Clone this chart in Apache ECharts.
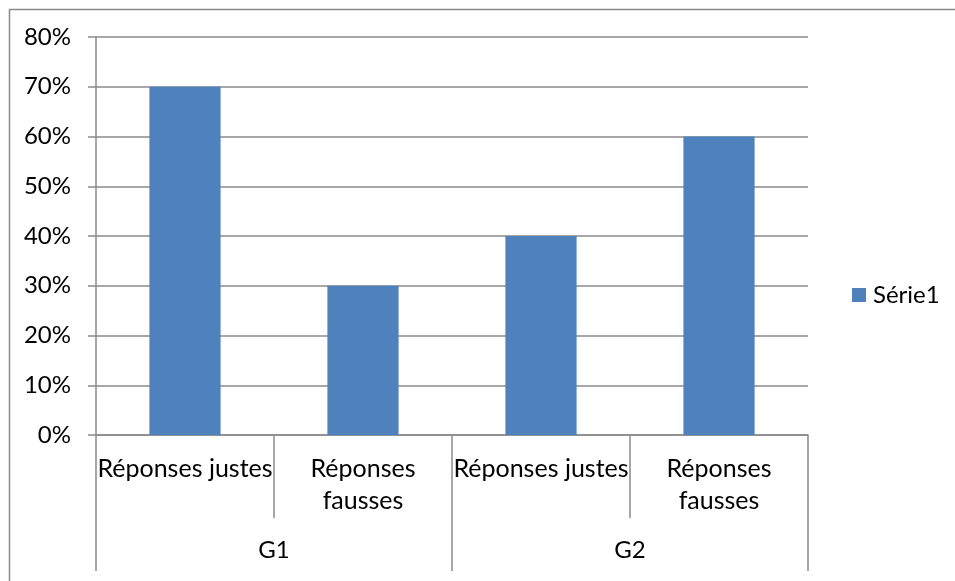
<!DOCTYPE html>
<html><head><meta charset="utf-8">
<script src="https://cdn.jsdelivr.net/npm/echarts@6/dist/echarts.min.js"></script>
<style>html,body{margin:0;padding:0;background:#fff}#c{width:955px;height:581px}</style>
</head><body><div id="c"></div>
<script>
const innerCategories = ['Réponses justes', 'Réponses fausses', 'Réponses justes', 'Réponses fausses'];
const outerCategories = ['G1', 'G2'];
const seriesName = 'Série1';
const values = [0.7, 0.3, 0.4, 0.6];
const yTicks = [0, 0.1, 0.2, 0.3, 0.4, 0.5, 0.6, 0.7, 0.8];

const FONT = 'Lato';
const FS = 24;
const GRAY = '#8a8a8a';
const chart = echarts.init(document.getElementById('c'), null, {renderer: 'canvas'});
chart.setOption({
  animation: false,
  backgroundColor: '#fff',
  textStyle: {fontFamily: FONT},
  graphic: [{
    type: 'rect', left: 7, top: 7, silent: true,
    shape: {x: 0, y: 0, width: 1200, height: 900},
    style: {fill: 'none', stroke: GRAY, lineWidth: 1.5}
  }],
  legend: {
    left: 852, top: 283, padding: 0, icon: 'rect', itemWidth: 14, itemHeight: 14, itemGap: 7,
    textStyle: {fontFamily: FONT, fontSize: FS, color: '#000', padding: [0, 0, 0, 2]},
    data: [seriesName]
  },
  grid: {left: 96, right: 147, top: 37, bottom: 146, containLabel: false},
  xAxis: [{
    type: 'category', data: innerCategories, position: 'bottom',
    axisLine: {lineStyle: {color: GRAY, width: 1.5}},
    axisTick: {show: true, interval: 0, length: 83, lineStyle: {color: GRAY, width: 1.5}},
    axisLabel: {
      interval: 0, margin: 18, color: '#000', fontFamily: FONT, fontSize: 25, lineHeight: 32,
      verticalAlign: 'top',
      formatter: v => v.indexOf('fausses') >= 0 ? v.replace(' ', '\n') : v
    }
  }, {
    type: 'category', data: outerCategories, position: 'bottom',
    axisLine: {show: false},
    axisTick: {show: true, interval: 0, length: 136, lineStyle: {color: GRAY, width: 1.5}},
    axisLabel: {interval: 0, margin: 103, color: '#000', fontFamily: FONT, fontSize: FS, verticalAlign: 'top'}
  }],
  yAxis: {
    type: 'value', min: 0, max: 0.8, interval: 0.1,
    axisLine: {show: true, lineStyle: {color: GRAY, width: 1.5}},
    axisTick: {show: true, length: 8, lineStyle: {color: GRAY, width: 1.5}},
    splitLine: {lineStyle: {color: GRAY, width: 1.5}},
    axisLabel: {margin: 25, color: '#000', fontFamily: FONT, fontSize: FS,
      formatter: v => Math.round(v * 100) + '%'}
  },
  series: [{
    name: seriesName, type: 'bar', xAxisIndex: 0, data: values,
    barWidth: '40%', itemStyle: {color: '#4F81BD'}
  }]
});
</script></body></html>
